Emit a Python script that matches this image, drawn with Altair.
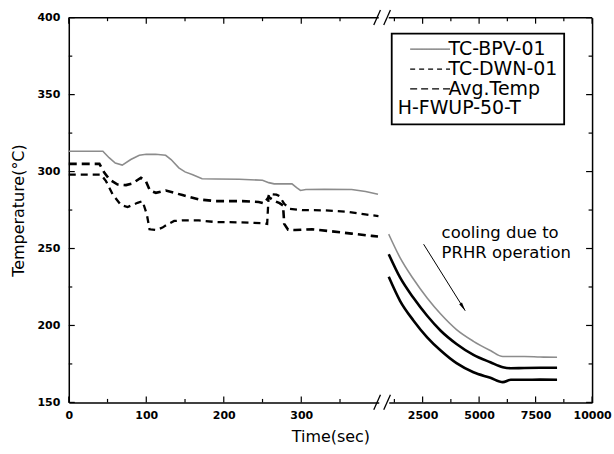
import altair as alt
import pandas as pd

FONT = "DejaVu Sans"

# ---------------- data: left segment (0-400 s) ----------------
bpv_t = [0, 44, 52, 60, 69, 80, 91, 100, 112, 125, 132, 142, 150, 160, 172, 190, 220, 250,
         258, 265, 288, 294, 299, 306, 330, 365, 383, 399]
bpv_T = [313.2, 313.2, 309.0, 305.5, 304.2, 307.8, 310.6, 311.2, 311.3, 310.6, 307.8, 302.4,
         299.8, 298.0, 295.3, 295.2, 295.0, 294.4, 292.8, 292.0, 292.0, 289.5, 287.7, 288.3,
         288.5, 288.3, 287.0, 285.2]

avg_t = [0, 39.5, 46, 52.4, 63, 73.8, 82.3, 93.1, 99.5, 104.7, 112.4, 125.3, 146.7, 168, 189.6,
         224, 245, 252, 258, 265, 272, 276.5, 278, 283, 292, 314, 335, 365, 391, 399]
avg_T = [305, 305, 299.2, 294.9, 291.6, 291.2, 292.3, 296.0, 293.8, 287.7, 286.2, 287.7, 284.7,
         281.9, 280.8, 280.8, 280.2, 279.3, 283.5, 281.0, 279.5, 278.0, 266.0, 262.2, 262.0,
         262.5, 261.4, 259.7, 258.2, 257.8]

dwn_t = [0, 41.6, 48, 56.6, 67.4, 75.9, 88.7, 95.2, 100.8, 104.2, 112.8, 120.9, 127.3, 136,
         146.7, 168, 189.6, 220, 250, 256, 258, 268, 272, 278, 285, 301, 331, 357, 382.5, 399.6]
dwn_T = [298, 298, 293.8, 285.2, 278.2, 276.9, 279.7, 280.8, 272.0, 262.5, 262.0, 263.6, 265.7,
         267.9, 268.3, 268.3, 267.2, 267.0, 266.5, 266.0, 285.5, 285.0, 284.0, 279.0, 275.8,
         275.0, 274.8, 274.0, 272.2, 271.1]

# ---------------- data: right segment (after the axis break) ----------------
r_t = [1000, 1500, 2100, 2700, 3300, 4000, 4750, 5500, 6050, 6400, 7000, 7700, 8450]
r_bpv = [259.3, 244.1, 230.0, 217.8, 207.4, 197.3, 189.7, 183.7, 179.8, 179.8, 179.8, 179.5, 179.3]
r_dwn = [246.3, 231.2, 217.8, 206.3, 196.6, 188.0, 180.9, 176.1, 172.9, 172.2, 172.4, 172.5, 172.5]
r_avg = [231.6, 216.0, 203.1, 192.3, 183.7, 175.5, 169.6, 166.0, 163.2, 164.7, 164.7, 164.8, 164.7]

series_names = ["TC-BPV-01", "TC-DWN-01", "Avg.Temp"]
legend_title = "H-FWUP-50-T"

y_major = [150, 200, 250, 300, 350, 400]
y_minor = [175, 225, 275, 325, 375]
xl_major = [0, 100, 200, 300]
xl_minor = [50, 150, 250, 350]
xr_major = [2500, 5000, 7500, 10000]
xr_minor = [1250, 3750, 6250, 8750]

annot_text = ["cooling due to", "PRHR operation"]
annot_t, annot_T = [3340], [257]
arrow_t, arrow_T = [2544], [252.8]
arrow_t2, arrow_T2 = [4384], [209.6]


def frame(name, ts, Ts):
    return pd.DataFrame({"series": name, "t": ts, "T": Ts})


left_df = pd.concat([frame(series_names[0], bpv_t, bpv_T),
                     frame(series_names[1], dwn_t, dwn_T),
                     frame(series_names[2], avg_t, avg_T)], ignore_index=True)
right_df = pd.concat([frame(series_names[0], r_t, r_bpv),
                      frame(series_names[1], r_t, r_dwn),
                      frame(series_names[2], r_t, r_avg)], ignore_index=True)
annot_df = pd.DataFrame({"t": annot_t, "T": annot_T})
arrow_df = pd.DataFrame({"t": arrow_t, "T": arrow_T, "t2": arrow_t2, "T2": arrow_T2})
one = pd.DataFrame({"k": [0]})

# ---------------- layout ----------------
WL, WR, H = 311, 204, 386
MAJ, MIN = 6, 3.5
Y0, Y1 = 150, 400
XL0, XL1 = 0, 400
XR0, XR1 = 1000, 10000

YS = alt.Scale(domain=[Y0, Y1], nice=False, zero=False)
XL = alt.Scale(domain=[XL0, XL1], nice=False, zero=False)
XR = alt.Scale(domain=[XR0, XR1], nice=False, zero=False)

LBL = dict(labelFont=FONT, labelFontSize=11, labelFontWeight="bold", labelColor="black")
TTL = dict(titleFont=FONT, titleFontSize=16, titleFontWeight="normal", titleColor="black")
DOM = dict(domain=True, domainColor="black", domainWidth=1.5)


def xy(chart, xs, xaxis=None, yaxis=None):
    xk = dict(scale=xs)
    yk = dict(scale=YS)
    if xaxis is not None:
        xk["axis"] = xaxis
    if yaxis is not None:
        yk["axis"] = yaxis
    return chart.encode(x=alt.X("t:Q", **xk), y=alt.Y("T:Q", **yk))


def xticks(values, xs, size, top):
    du = (Y1 - Y0) / H * size
    a, b = (Y1, Y1 - du) if top else (Y0, Y0 + du)
    return alt.Chart(pd.DataFrame({"v": values})).transform_calculate(
        a=str(a), b=str(b)).mark_rule(color="black", strokeWidth=1.2).encode(
        x=alt.X("v:Q", scale=xs), y=alt.Y("a:Q", scale=YS), y2="b:Q")


def yticks(values, xs, lo, hi, width, size, right):
    du = (hi - lo) / width * size
    a, b = (hi, hi - du) if right else (lo, lo + du)
    return alt.Chart(pd.DataFrame({"v": values})).transform_calculate(
        a=str(a), b=str(b)).mark_rule(color="black", strokeWidth=1.2).encode(
        y=alt.Y("v:Q", scale=YS), x=alt.X("a:Q", scale=xs), x2="b:Q")


def hline(x1, x2, y):
    return alt.Chart(one).mark_rule(color="black", strokeWidth=1.5).encode(
        x=alt.value(x1), x2=alt.value(x2), y=alt.value(y))


def slash(x1, y1, x2, y2):
    return alt.Chart(one).mark_rule(color="black", strokeWidth=1.3).encode(
        x=alt.value(x1), y=alt.value(y1), x2=alt.value(x2), y2=alt.value(y2))


def series_line(df, name, **style):
    return alt.Chart(df).transform_filter(alt.datum.series == name).mark_line(**style)


# ---------------- left panel ----------------
x_main_L = alt.Axis(orient="bottom", values=xl_major, format="d", ticks=False, grid=False,
                    labelFlush=False, labelPadding=7, title="Time(sec)", titleX=262.5,
                    titlePadding=8, **LBL, **TTL, **DOM)
y_main_L = alt.Axis(orient="left", values=y_major, format="d", ticks=False, grid=False,
                    labelPadding=9, title="Temperature(°C)", titlePadding=10,
                    **LBL, **TTL, **DOM)

left = alt.layer(
    xy(series_line(left_df, "TC-BPV-01", color="#8c8c8c", strokeWidth=1.6), XL, x_main_L, y_main_L),
    xy(series_line(left_df, "TC-DWN-01", color="black", strokeWidth=2.3, strokeDash=[7, 5]), XL),
    xy(series_line(left_df, "Avg.Temp", color="black", strokeWidth=2.6, strokeDash=[8, 5]), XL),
    xticks(xl_major, XL, MAJ, False), xticks(xl_minor, XL, MIN, False),
    xticks(xl_major, XL, MAJ, True), xticks(xl_minor, XL, MIN, True),
    yticks(y_major, XL, XL0, XL1, WL, MAJ, False), yticks(y_minor, XL, XL0, XL1, WL, MIN, False),
    hline(0, WL, 0),
    slash(306, 7.3, 312.7, -7.7),
    slash(316, 7.3, 322.7, -7.7),
    slash(306, H + 7.3, 312.7, H - 7.7),
    slash(316, H + 7.3, 322.7, H - 7.7),
).properties(width=WL, height=H)

# ---------------- right panel ----------------
x_main_R = alt.Axis(orient="bottom", values=xr_major, format="d", ticks=False, grid=False,
                    labelFlush=False, labelPadding=7, title=None, **LBL, **DOM)
y_main_R = alt.Axis(orient="right", labels=False, ticks=False, grid=False, title=None, **DOM)

LEG = alt.Legend(orient="none", legendX=3, legendY=16, title=legend_title,
                 titleOrient="bottom", titleAnchor="start", titleFont=FONT, titleFontSize=19,
                 titleFontWeight="normal", titleColor="black", titlePadding=0,
                 labelFont=FONT, labelFontSize=19, labelColor="black", labelOffset=32,
                 symbolType="M0.6,0L8.6,0", symbolSize=100, rowPadding=0, padding=6,
                 strokeColor="black", fillColor="white")

legend_layer = xy(
    alt.Chart(right_df).transform_filter(alt.datum.t == r_t[0]).mark_line(), XR
).encode(
    color=alt.Color("series:N", scale=alt.Scale(domain=series_names,
                                                range=["#6e6e6e", "black", "black"]), legend=LEG),
    strokeDash=alt.StrokeDash("series:N", scale=alt.Scale(domain=series_names,
                                                          range=[[1, 0], [5, 4], [7, 4]]), legend=LEG),
    strokeWidth=alt.StrokeWidth("series:N", scale=alt.Scale(domain=series_names,
                                                            range=[1.2, 1.3, 2.6]), legend=LEG),
)

arrow = alt.Chart(arrow_df).mark_rule(color="black", strokeWidth=1).encode(
    x=alt.X("t:Q", scale=XR), y=alt.Y("T:Q", scale=YS), x2="t2:Q", y2="T2:Q")
head = alt.Chart(arrow_df).mark_point(shape="M0,0L0.5,2.6L-0.5,2.6Z", filled=True,
                                      color="black", opacity=1, size=45, angle=148).encode(
    x=alt.X("t2:Q", scale=XR), y=alt.Y("T2:Q", scale=YS))
note = alt.Chart(annot_df).mark_text(text=annot_text, align="left", baseline="alphabetic",
                                     font=FONT, fontSize=16.5, lineHeight=20.6,
                                     color="black").encode(
    x=alt.X("t:Q", scale=XR), y=alt.Y("T:Q", scale=YS))

right = alt.layer(
    xy(series_line(right_df, "TC-BPV-01", color="#8c8c8c", strokeWidth=1.6,
                   interpolate="monotone"), XR, x_main_R, y_main_R),
    xy(alt.Chart(right_df).transform_filter(alt.datum.series != "TC-BPV-01").mark_line(
        color="black", strokeWidth=2.6, interpolate="monotone"), XR).encode(detail="series:N"),
    legend_layer,
    xticks(xr_major, XR, MAJ, False), xticks(xr_minor, XR, MIN, False),
    xticks(xr_major, XR, MAJ, True), xticks(xr_minor, XR, MIN, True),
    yticks(y_major, XR, XR0, XR1, WR, MAJ, True), yticks(y_minor, XR, XR0, XR1, WR, MIN, True),
    hline(0, WR, 0),
    arrow, head, note,
).properties(width=WR, height=H)

chart = alt.hconcat(left, right, spacing=10, bounds="flush").resolve_scale(
    color="independent", strokeDash="independent", strokeWidth="independent"
).configure_view(stroke=None).configure_legend(strokeWidth=1.8).properties(
    padding={"left": 11, "top": 8, "right": 2, "bottom": 2}, background="white")

chart.save("out.html", embed_options={"renderer": "svg", "actions": False})
